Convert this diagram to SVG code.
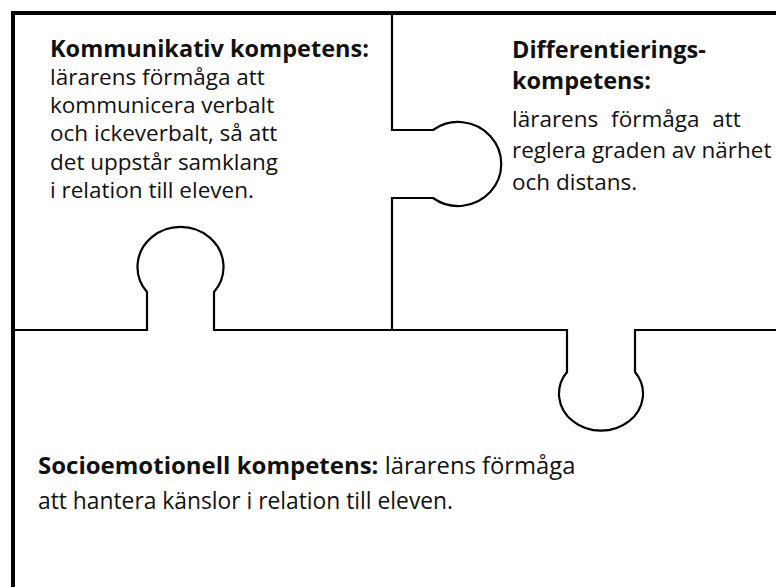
<svg xmlns="http://www.w3.org/2000/svg" width="776" height="587" viewBox="0 0 776 587">
<style>
.frame{fill:none;stroke:#000;stroke-width:4}
.cut{fill:none;stroke:#000;stroke-width:2.2;stroke-linejoin:miter}
text{font-family:"Open Sans","Noto Sans","Liberation Sans",sans-serif;font-size:22.5px;fill:#111}
.b{font-weight:bold;font-size:23.5px}
.s{font-size:23.8px}
.s2{font-size:22.8px}
.sb{font-weight:bold;font-size:24px}
</style>
<rect width="776" height="587" fill="#fff"/>
<g id="connectors">
<path class="frame" d="M13,587 V13 H776"/>
<path class="cut" d="M392,13 V130 H433 A43,42 0 1 1 433,198 H392 V330"/>
<path class="cut" d="M13,330 H147 V292 A43,40 0 1 1 214,292 V330 H567 V372 A42,37 0 1 0 635,372 V330 H776"/>
</g>
<g id="kommunikativ">
<text class="b" x="50" y="57">Kommunikativ kompetens:</text>
<text x="50" y="85">lärarens förmåga att</text>
<text x="50" y="113">kommunicera verbalt</text>
<text x="50" y="141">och ickeverbalt, så att</text>
<text x="50" y="170">det uppstår samklang</text>
<text x="50" y="198">i relation till eleven.</text>
</g>
<g id="differentierings">
<text class="b" x="512" y="58">Differentierings-</text>
<text class="b" x="512" y="89">kompetens:</text>
<text x="512" y="127" word-spacing="7">lärarens förmåga att</text>
<text x="512" y="158">reglera graden av närhet</text>
<text x="512" y="190">och distans.</text>
</g>
<g id="socioemotionell">
<text class="s" x="38" y="474"><tspan class="sb">Socioemotionell kompetens:</tspan> lärarens förmåga</text>
<text class="s2" x="38" y="509">att hantera känslor i relation till eleven.</text>
</g>
</svg>
